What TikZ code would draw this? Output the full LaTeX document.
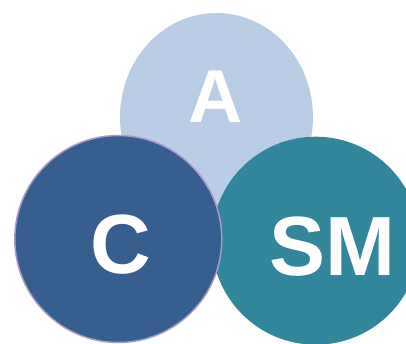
\documentclass[tikz,border=0pt]{standalone}
\usepackage{fontspec}
\setmainfont{Liberation Sans}
\usetikzlibrary{shapes.geometric}
\definecolor{cA}{HTML}{B9CDE4}
\definecolor{cC}{HTML}{365F8F}
\definecolor{cCb}{HTML}{A99BC6}
\definecolor{cSM}{HTML}{31869B}
\tikzset{
  lbl/.style={text=white,font=\bfseries,anchor=base,inner sep=0pt},
  blob/.style={inner sep=0pt,outer sep=0pt}
}
\begin{document}
\begin{tikzpicture}[x=1pt,y=-1pt]
\useasboundingbox (0,0) rectangle (406,344);
\clip (0,0) rectangle (406,344);
\node[blob,ellipse,fill=cA,minimum width=193pt,minimum height=208pt] (A) at (216.5,117) {};
\node[blob,circle,fill=cSM,minimum size=208pt] (SM) at (315.7,240.7) {};
\node[blob,circle,fill=cC,draw=cCb,line width=1.5pt,minimum size=207pt] (C) at (118.3,239) {};
\node[lbl,font=\bfseries\fontsize{75}{75}\selectfont] (tA) at (215.5,122.5) {A};
\node[lbl,font=\bfseries\fontsize{84}{84}\selectfont] (tC) at (121,273) {C};
\node[lbl,font=\bfseries\fontsize{84}{84}\selectfont] (tSM) at (332,275) {SM};
\end{tikzpicture}
\end{document}
